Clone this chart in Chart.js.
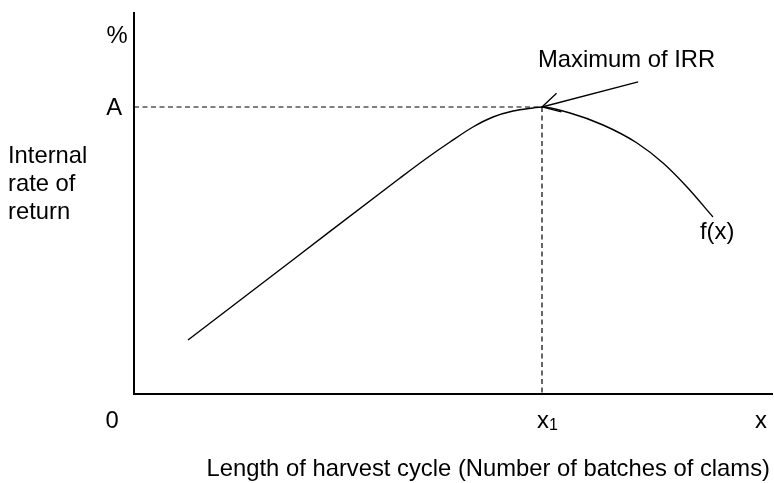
<!DOCTYPE html>
<html>
<head>
<meta charset="utf-8">
<script src="https://cdn.jsdelivr.net/npm/chart.js@4/dist/chart.umd.min.js"></script>
<style>
html,body{margin:0;padding:0;background:#fff;}
canvas{display:block;}
</style>
</head>
<body>
<canvas id="c" width="774" height="483"></canvas>
<script>
// Curve f(x): internal rate of return vs length of harvest cycle (schematic units)
const curveX = [8.45, 25.04, 41.63, 45.85, 49.45, 53.05, 56.18, 59.31, 62.44, 63.85, 68.23, 73.40, 78.72, 82.79, 86.54, 90.61];
const curveY = [14.14, 35.34, 56.54, 61.78, 65.97, 69.90, 72.51, 74.08, 74.87, 75.13, 73.56, 70.42, 65.71, 60.47, 54.19, 46.34];
// Maximum point (x1, A)
const peakX = [63.85];
const peakY = [75.13];
// Arrow tail for "Maximum of IRR"
const arrowTailX = [78.9];
const arrowTailY = [81.7];
// Axis extents
const axisMaxX = [100];
const axisMaxY = [100];
// Text labels
const yUnitLabel = '%';
const peakYLabel = 'A';
const peakXLabel = 'x';
const peakXSub = '1';
const originLabel = '0';
const xEndLabel = 'x';
const yTitleLines = ['Internal', 'rate of', 'return'];
const xTitle = 'Length of harvest cycle (Number of batches of clams)';
const annotationLabel = 'Maximum of IRR';
const curveLabel = 'f(x)';

const FONT = '23.8px "Liberation Sans", Arial, sans-serif';
const SUBFONT = '16px "Liberation Sans", Arial, sans-serif';

const curve = curveX.map((x, i) => ({x, y: curveY[i]}));
const xA = peakX[0], yA = peakY[0];

const textPlugin = {
  id: 'texts',
  afterDatasetsDraw(chart) {
    const ctx = chart.ctx;
    const xs = chart.scales.x, ys = chart.scales.y;
    ctx.save();
    ctx.fillStyle = '#000';
    ctx.font = FONT;
    ctx.textBaseline = 'middle';
    ctx.textAlign = 'center';
    ctx.fillText(yUnitLabel, 117, 36);
    ctx.textAlign = 'right';
    ctx.fillText(peakYLabel, 122, ys.getPixelForValue(yA) + 1);
    ctx.textAlign = 'left';
    const ty = [156, 184, 212];
    yTitleLines.forEach((t, i) => ctx.fillText(t, 8, ty[i]));
    ctx.textAlign = 'center';
    ctx.fillText(originLabel, 112, 421);
    const px1 = xs.getPixelForValue(xA);
    ctx.textAlign = 'left';
    ctx.fillText(peakXLabel, px1 - 5, 421);
    const w = ctx.measureText(peakXLabel).width;
    ctx.font = SUBFONT;
    ctx.fillText(peakXSub, px1 - 5 + w, 426);
    ctx.font = FONT;
    ctx.textAlign = 'center';
    ctx.fillText(xEndLabel, 761, 421);
    ctx.textAlign = 'right';
    ctx.fillText(xTitle, 770, 469);
    ctx.textAlign = 'left';
    ctx.fillText(annotationLabel, 538, 60);
    ctx.fillText(curveLabel, 700, 232);
    // arrow head barbs
    const tipX = xs.getPixelForValue(xA), tipY = ys.getPixelForValue(yA);
    const tX = xs.getPixelForValue(arrowTailX[0]), tY = ys.getPixelForValue(arrowTailY[0]);
    const ang = Math.atan2(tY - tipY, tX - tipX);
    const L = 20, spread = 0.5;
    ctx.strokeStyle = '#000';
    ctx.lineWidth = 1.3;
    ctx.beginPath();
    ctx.moveTo(tipX + L * Math.cos(ang - spread), tipY + L * Math.sin(ang - spread));
    ctx.lineTo(tipX, tipY);
    ctx.lineTo(tipX + L * Math.cos(ang + spread), tipY + L * Math.sin(ang + spread));
    ctx.stroke();
    ctx.restore();
  }
};

new Chart(document.getElementById('c'), {
  type: 'line',
  data: {
    datasets: [
      { data: curve, borderColor: '#000', borderWidth: 1.4, pointRadius: 0, cubicInterpolationMode: 'monotone', clip: false },
      { data: [{x: 0, y: yA}, {x: xA, y: yA}], borderColor: '#000', borderWidth: 1.2, borderDash: [5, 3.5], pointRadius: 0, clip: false },
      { data: [{x: xA, y: yA}, {x: xA, y: 0}], borderColor: '#000', borderWidth: 1.2, borderDash: [5, 3.5], pointRadius: 0, clip: false },
      { data: [{x: arrowTailX[0], y: arrowTailY[0]}, {x: xA, y: yA}], borderColor: '#000', borderWidth: 1.3, pointRadius: 0, clip: false },
      { data: [{x: 0, y: axisMaxY[0]}, {x: 0, y: 0}, {x: axisMaxX[0], y: 0}], borderColor: '#000', borderWidth: 2, pointRadius: 0, clip: false, borderCapStyle: 'butt', borderJoinStyle: 'miter' }
    ]
  },
  options: {
    responsive: false,
    animation: false,
    events: [],
    layout: { padding: { left: 134, right: 1, top: 12, bottom: 89 } },
    plugins: { legend: { display: false }, tooltip: { enabled: false } },
    scales: {
      x: { type: 'linear', min: 0, max: 100, display: false },
      y: { type: 'linear', min: 0, max: 100, display: false }
    }
  },
  plugins: [textPlugin]
});
</script>
</body>
</html>
